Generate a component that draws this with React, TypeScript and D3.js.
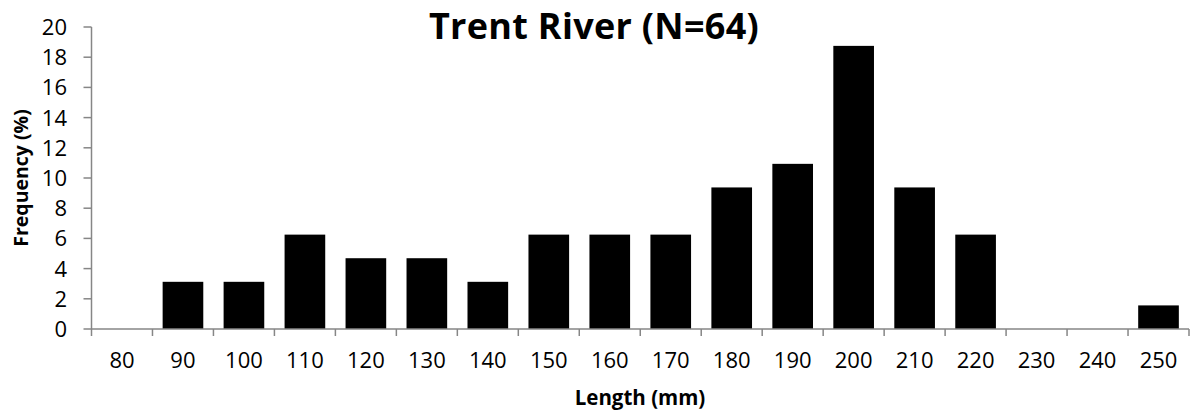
import React from "react";
import * as d3 from "d3";

const categories = ["80","90","100","110","120","130","140","150","160","170","180","190","200","210","220","230","240","250"];
const frequency = [0,3.125,3.125,6.25,4.6875,4.6875,3.125,6.25,6.25,6.25,9.375,10.9375,18.75,9.375,6.25,0,0,1.5625];
const yTicks = [0,2,4,6,8,10,12,14,16,18,20];
const title = "Trent River (N=64)";
const xTitle = "Length (mm)";
const yTitle = "Frequency (%)";

const W = 1190, H = 416;
const left = 91.5, right = 1189, top = 27, bottom = 329;
const FONT = "'Open Sans', Lato, sans-serif";
const AXIS = "#868686";

export default function App() {
  const x = d3.scaleBand<string>().domain(categories).range([left, right]).paddingInner(1/3).paddingOuter(1/6);
  const xb = d3.scaleBand<string>().domain(categories).range([left, right]);
  const y = d3.scaleLinear().domain([0, 20]).range([bottom, top]);
  return (
    <svg width={W} height={H} style={{ position: "absolute", left: 0, top: 0, background: "#fff" }}>
      <text x={594} y={39} textAnchor="middle" fontFamily={FONT} fontWeight="bold" fontSize={36} letterSpacing={0.3} fill="#000">{title}</text>
      {categories.map((c, i) => frequency[i] > 0 ? (
        <rect key={c} x={x(c)} y={y(frequency[i])} width={x.bandwidth()} height={bottom - y(frequency[i])} fill="#000" />
      ) : null)}
      <line x1={left} x2={left} y1={top} y2={bottom} stroke={AXIS} strokeWidth={1.5} />
      {yTicks.map(t => (
        <g key={t}>
          <line x1={left - 8} x2={left} y1={y(t)} y2={y(t)} stroke={AXIS} strokeWidth={1.5} />
          <text x={67} y={y(t)} dy="0.36em" textAnchor="end" fontFamily={FONT} fontSize={22} fill="#000">{t}</text>
        </g>
      ))}
      <line x1={left} x2={right} y1={bottom} y2={bottom} stroke={AXIS} strokeWidth={1.5} />
      {categories.map(c => (
        <line key={"t" + c} x1={xb(c)} x2={xb(c)} y1={bottom} y2={bottom + 7} stroke={AXIS} strokeWidth={1.5} />
      ))}
      <line x1={right} x2={right} y1={bottom} y2={bottom + 7} stroke={AXIS} strokeWidth={1.5} />
      {categories.map(c => (
        <text key={"l" + c} x={(xb(c) as number) + xb.bandwidth() / 2} y={368} textAnchor="middle" fontFamily={FONT} fontSize={22} fill="#000">{c}</text>
      ))}
      <text x={640} y={405} textAnchor="middle" fontFamily={FONT} fontWeight="bold" fontSize={20.5} fill="#000">{xTitle}</text>
      <text transform={`translate(28,${(top + bottom) / 2}) rotate(-90)`} textAnchor="middle" fontFamily={FONT} fontWeight="bold" fontSize={19.5} fill="#000">{yTitle}</text>
    </svg>
  );
}
